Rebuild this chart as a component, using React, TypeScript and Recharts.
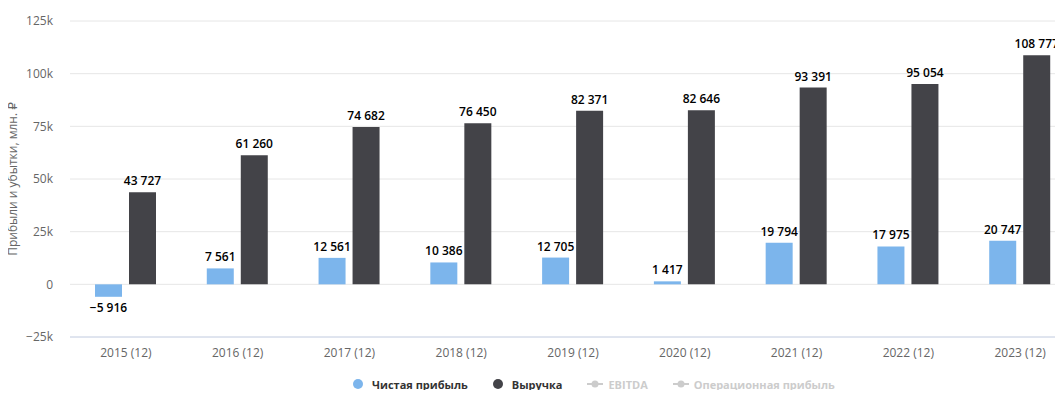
import React from 'react';
import {
  BarChart,
  Bar,
  XAxis,
  YAxis,
  CartesianGrid,
  LabelList,
  Legend
} from 'recharts';

const years = [
  '2015 (12)',
  '2016 (12)',
  '2017 (12)',
  '2018 (12)',
  '2019 (12)',
  '2020 (12)',
  '2021 (12)',
  '2022 (12)',
  '2023 (12)'
];
const netProfit = [-5916, 7561, 12561, 10386, 12705, 1417, 19794, 17975, 20747];
const revenue = [43727, 61260, 74682, 76450, 82371, 82646, 93391, 95054, 108777];
const yTicks = [-25000, 0, 25000, 50000, 75000, 100000, 125000];

const legendItems = [
  { name: 'Чистая прибыль', color: '#7cb5ec', hidden: false },
  { name: 'Выручка', color: '#434348', hidden: false },
  { name: 'EBITDA', color: '#cccccc', hidden: true },
  { name: 'Операционная прибыль', color: '#cccccc', hidden: true }
];

const data = years.map((year, i) => ({
  year,
  netProfit: netProfit[i],
  revenue: revenue[i]
}));

const FONT = '"Open Sans", "DejaVu Sans", sans-serif';
const W = 1080;
const H = 398;

// non-breaking space so the label never wraps
const fmtValue = (v: any) => {
  const n = Number(v);
  const s = Math.abs(n).toString().replace(/\B(?=(\d{3})+(?!\d))/g, '\u00A0');
  return n < 0 ? '−' + s : s;
};

const fmtTick = (v: number) => {
  if (v === 0) return '0';
  const k = Math.abs(v) / 1000;
  return (v < 0 ? '−' : '') + k + 'k';
};

const YTitle = ({ viewBox }: any) => {
  const cy = viewBox.y + viewBox.height / 2;
  return (
    <text
      x={12}
      y={cy}
      transform={`rotate(-90, 12, ${cy})`}
      textAnchor="middle"
      dominantBaseline="central"
      fill="#666666"
      fontSize={12}
      fontFamily={FONT}
    >
      Прибыли и убытки, млн. ₽
    </text>
  );
};

const LegendContent = () => (
  <div
    style={{
      height: 24,
      display: 'flex',
      alignItems: 'center',
      paddingLeft: 353,
      fontFamily: FONT,
      fontSize: 11,
      fontWeight: 'bold'
    }}
  >
    {legendItems.map((item) => (
      <div
        key={item.name}
        style={{ display: 'flex', alignItems: 'center', marginRight: 25 }}
      >
        {item.hidden ? (
          <svg width={16} height={10} style={{ marginRight: 5 }}>
            <line x1={0} y1={5} x2={16} y2={5} stroke={item.color} strokeWidth={2} />
            <circle cx={8} cy={5} r={3.5} fill={item.color} />
          </svg>
        ) : (
          <span
            style={{
              width: 10,
              height: 10,
              borderRadius: 5,
              background: item.color,
              marginRight: 9
            }}
          />
        )}
        <span style={{ color: item.hidden ? '#cccccc' : '#333333' }}>{item.name}</span>
      </div>
    ))}
  </div>
);

const labelStyle = {
  fontFamily: FONT,
  fontSize: 12,
  fontWeight: 600,
  fill: '#000000'
};

const App: React.FC = () => {
  return (
    <div style={{ margin: -8, width: 1063, height: 398, overflow: 'hidden' }}>
      <BarChart
        width={W}
        height={H}
        data={data}
        margin={{ top: 21, right: 4, bottom: 2, left: 0 }}
        barSize={27}
        barGap={7}
      >
        <CartesianGrid vertical={false} stroke="#e6e6e6" />
        <XAxis
          dataKey="year"
          height={35}
          tickLine={false}
          tickSize={0}
          tickMargin={11}
          axisLine={{ stroke: '#ccd6eb' }}
          tick={{ fill: '#666666', fontSize: 12, fontFamily: FONT }}
        />
        <YAxis
          width={70}
          domain={[-25000, 125000]}
          ticks={yTicks}
          tickFormatter={fmtTick}
          axisLine={false}
          tickLine={false}
          tickSize={0}
          tickMargin={17}
          tick={{ fill: '#666666', fontSize: 12, fontFamily: FONT }}
          label={{ content: YTitle }}
        />
        <Legend
          verticalAlign="bottom"
          content={LegendContent}
          wrapperStyle={{ left: 0, width: W }}
        />
        <Bar dataKey="netProfit" name="Чистая прибыль" fill="#7cb5ec" isAnimationActive={false}>
          <LabelList dataKey="netProfit" position="top" offset={7} formatter={fmtValue} style={labelStyle} />
        </Bar>
        <Bar dataKey="revenue" name="Выручка" fill="#434348" isAnimationActive={false}>
          <LabelList dataKey="revenue" position="top" offset={7} formatter={fmtValue} style={labelStyle} />
        </Bar>
      </BarChart>
    </div>
  );
};

export default App;
